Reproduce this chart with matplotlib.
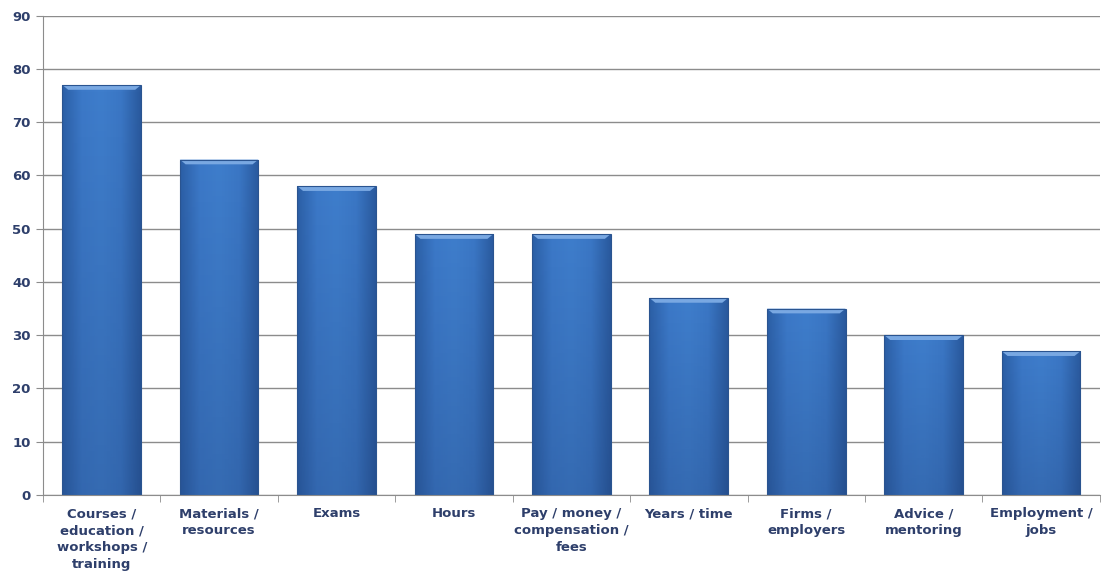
import matplotlib.pyplot as plt
import numpy as np
from matplotlib.patches import Polygon
from matplotlib.colors import LinearSegmentedColormap

categories = ['Courses /\neducation /\nworkshops /\ntraining', 'Materials /\nresources', 'Exams',
              'Hours', 'Pay / money /\ncompensation /\nfees', 'Years / time', 'Firms /\nemployers',
              'Advice /\nmentoring', 'Employment /\njobs']
values = [77, 63, 58, 49, 49, 37, 35, 30, 27]

label_color = '#2E3F6B'
plt.rcParams['font.family'] = ['DejaVu Sans']

fig = plt.figure(figsize=(11.02, 5.85), dpi=100)
ax = fig.add_axes([0.039, 0.154, 0.959, 0.819])

x = np.arange(len(values))
width = 0.67
bars = ax.bar(x, values, width=width, color='#3B74C2', edgecolor='#2A5490', linewidth=0.8, zorder=2)

# horizontal shading inside each bar
cmap = LinearSegmentedColormap.from_list('bevel', ['#2C5FA6', '#3C79C8', '#3F7ECC', '#3B77C5', '#2A5A9E'])
grad = np.linspace(0, 1, 256).reshape(1, -1)
vshade = LinearSegmentedColormap.from_list('vs', [(0.1, 0.2, 0.4, 0.25), (0.1, 0.2, 0.4, 0.0)])
vgrad = np.linspace(0, 1, 256).reshape(-1, 1)
for b in bars:
    x0, w, h = b.get_x(), b.get_width(), b.get_height()
    im = ax.imshow(grad, cmap=cmap, aspect='auto', extent=[x0, x0 + w, 0, h], zorder=2.1)
    im.set_clip_path(b)
    im2 = ax.imshow(vgrad, cmap=vshade, aspect='auto', extent=[x0, x0 + w, 0, h],
                    origin='lower', zorder=2.15)
    im2.set_clip_path(b)
    # top bevel
    d = 0.05
    top = Polygon([[x0, h], [x0 + w, h], [x0 + w - d, h - 0.9], [x0 + d, h - 0.9]],
                  closed=True, facecolor='#79A8E2', edgecolor='none', zorder=2.2)
    ax.add_patch(top)
    b.set_zorder(2.3)
    b.set_facecolor('none')

ax.set_xlim(-0.5, len(values) - 0.5)
ax.set_ylim(0, 90)
ax.set_yticks(np.arange(0, 91, 10))
ax.yaxis.grid(True, color='#8C8C8C', linewidth=1.0, zorder=0)
ax.set_axisbelow(True)

ax.set_xticks(x)
ax.set_xticklabels(categories, fontsize=9.5, fontweight='bold', color=label_color, linespacing=1.4)
ax.set_xticks(np.arange(-0.5, len(values), 1), minor=True)
ax.tick_params(axis='x', which='major', length=0, pad=9)
ax.tick_params(axis='x', which='minor', length=5, color='#8C8C8C', direction='out')
ax.tick_params(axis='y', length=5, color='#8C8C8C', labelsize=9.5, labelcolor=label_color, pad=4)
for lbl in ax.get_yticklabels():
    lbl.set_fontweight('bold')

for s in ['top', 'right']:
    ax.spines[s].set_visible(False)
ax.spines['left'].set_color('#8C8C8C')
ax.spines['bottom'].set_color('#8C8C8C')

fig.savefig('out.png', dpi=100)
